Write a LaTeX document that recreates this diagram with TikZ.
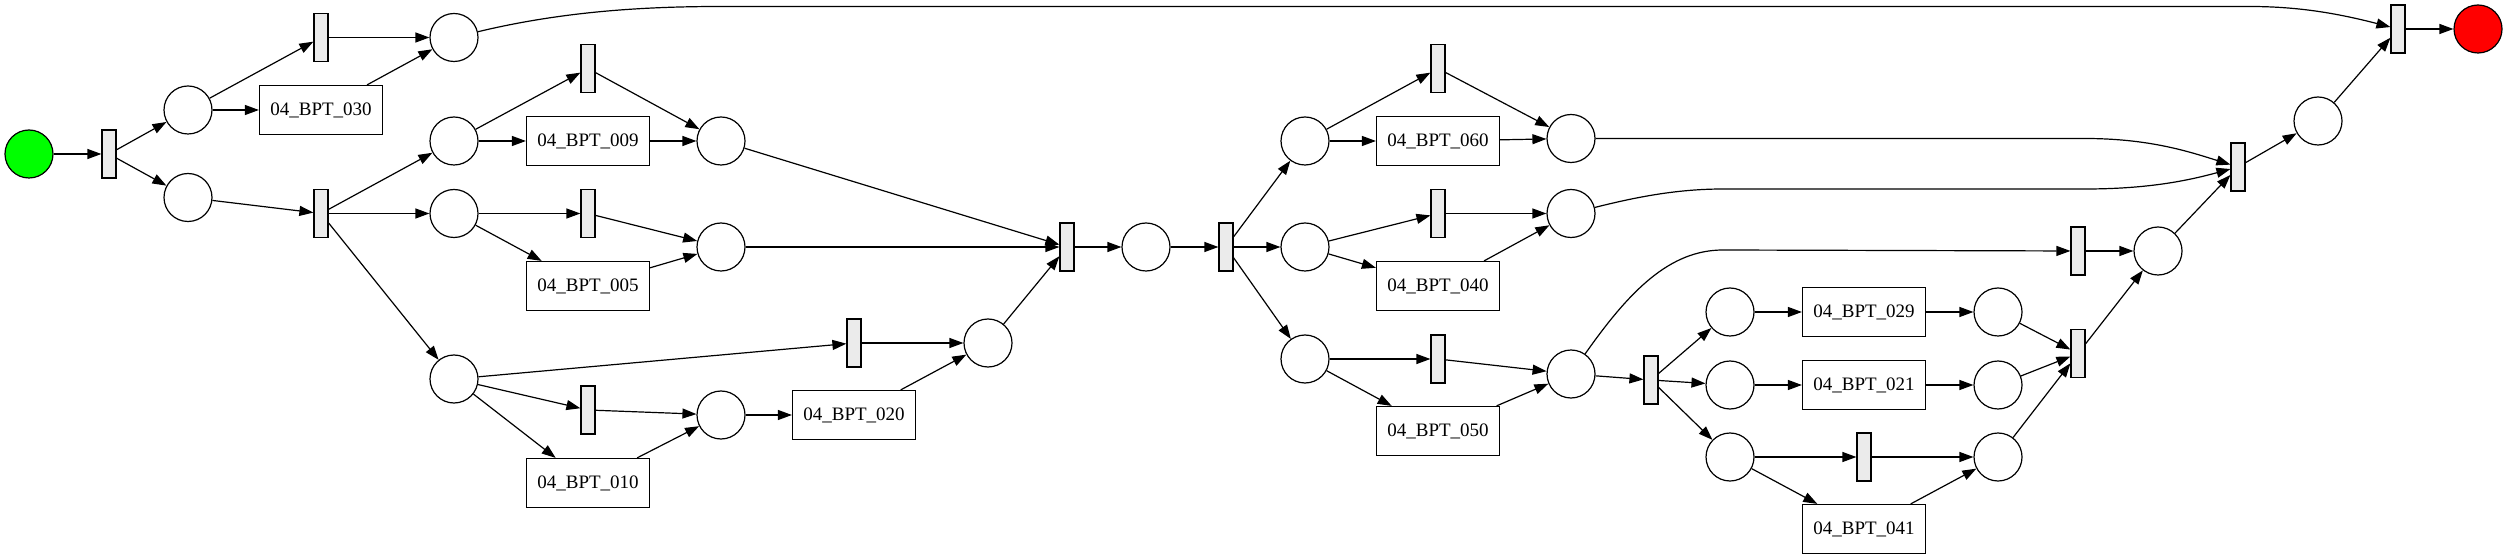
\documentclass[tikz,border=0pt]{standalone}
\usepackage{fontspec}
\setmainfont{Liberation Serif}
\usepackage{tikz}
\usetikzlibrary{arrows.meta}
\definecolor{startgreen}{HTML}{00FF00}
\definecolor{endred}{HTML}{FF0000}
\definecolor{transgray}{HTML}{EBEBEB}
\tikzset{
  place/.style={circle, draw, minimum size=24pt, inner sep=0pt},
  trans/.style={rectangle, draw, fill=transgray, minimum width=7pt, minimum height=24pt, inner sep=0pt},
  task/.style={rectangle, draw, minimum width=61.5pt, minimum height=24.5pt, inner sep=0pt, font=\fontsize{9.5}{11}\selectfont},
  arc/.style={->, line width=0.6pt}
}
\begin{document}
\begin{tikzpicture}[x=0.5pt, y=-0.5pt, line width=0.6pt, >={Triangle[length=7pt,width=5pt]}]
\useasboundingbox (0,0) rectangle (2503,555);
\node[place, fill=startgreen] (pStart) at (29,154) {};
\node[trans] (tA) at (109,154) {};
\node[place] (pA) at (188,110) {};
\node[place] (pB) at (188,197.5) {};
\node[trans] (tA1) at (321,37.5) {};
\node[task] (b030) at (321,110) {04\_BPT\_030};
\node[place] (pC) at (454,37.5) {};
\node[trans] (tB) at (321,213.5) {};
\node[place] (pD) at (454,141) {};
\node[place] (pE) at (454,213.5) {};
\node[place] (pF) at (454,379) {};
\node[trans] (tD) at (588,68.5) {};
\node[task] (b009) at (588,141) {04\_BPT\_009};
\node[trans] (tE) at (588,213.5) {};
\node[task] (b005) at (588,286) {04\_BPT\_005};
\node[trans] (tF) at (588,410) {};
\node[task] (b010) at (588,483) {04\_BPT\_010};
\node[place] (pG) at (721,141) {};
\node[place] (pH) at (721,247) {};
\node[place] (pI) at (721,415) {};
\node[trans] (tI) at (854,343) {};
\node[task] (b020) at (854,415) {04\_BPT\_020};
\node[place] (pJ) at (988,343) {};
\node[trans] (tJ) at (1067,247) {};
\node[place] (pK) at (1146,247) {};
\node[trans] (tK) at (1226,247) {};
\node[place] (pL1) at (1305,141) {};
\node[place] (pL2) at (1305,247) {};
\node[place] (pL3) at (1305,359) {};
\node[trans] (tL1) at (1438,68.5) {};
\node[task] (b060) at (1438,141) {04\_BPT\_060};
\node[trans] (tL2) at (1438,213.5) {};
\node[task] (b040) at (1438,286) {04\_BPT\_040};
\node[trans] (tL3) at (1438,359) {};
\node[task] (b050) at (1438,431) {04\_BPT\_050};
\node[place] (pM) at (1571,138.5) {};
\node[place] (pN) at (1571,213.5) {};
\node[place] (pO) at (1571,374) {};
\node[trans] (tO) at (1651,380) {};
\node[place] (pP1) at (1730,312) {};
\node[place] (pP2) at (1730,385) {};
\node[place] (pP3) at (1730,457) {};
\node[task] (b029) at (1864,312) {04\_BPT\_029};
\node[task] (b021) at (1864,385) {04\_BPT\_021};
\node[trans] (tP3) at (1864,457) {};
\node[task] (b041) at (1864,529) {04\_BPT\_041};
\node[place] (pQ1) at (1998,312) {};
\node[place] (pQ2) at (1998,385) {};
\node[place] (pQ3) at (1998,457) {};
\node[trans] (tQ) at (2078,353.5) {};
\node[trans] (tR) at (2078,251) {};
\node[place] (pR) at (2158,251) {};
\node[trans] (tS) at (2238,167) {};
\node[place] (pS) at (2318,121) {};
\node[trans] (tEnd) at (2398,29) {};
\node[place, fill=endred] (pEnd) at (2478,29) {};
\foreach \a/\b in {pStart/tA, tA/pA, tA/pB, pA/tA1, pA/b030, tA1/pC, b030/pC, pB/tB,
  tB/pD, tB/pE, tB/pF, pD/tD, pD/b009, tD/pG, b009/pG, pE/tE, pE/b005, tE/pH, b005/pH,
  pF/tI, pF/tF, pF/b010, tF/pI, b010/pI, pI/b020, tI/pJ, b020/pJ, pG/tJ, pH/tJ, pJ/tJ,
  tJ/pK, pK/tK, tK/pL1, tK/pL2, tK/pL3, pL1/tL1, pL1/b060, tL1/pM, b060/pM,
  pL2/tL2, pL2/b040, tL2/pN, b040/pN, pL3/tL3, pL3/b050, tL3/pO, b050/pO, pO/tO,
  tO/pP1, tO/pP2, tO/pP3, pP1/b029, pP2/b021, pP3/tP3, pP3/b041, b029/pQ1, b021/pQ2,
  tP3/pQ3, b041/pQ3, pQ1/tQ, pQ2/tQ, pQ3/tQ, tQ/pR, tR/pR, pR/tS, tS/pS, pS/tEnd, tEnd/pEnd}
  \draw[arc] (\a) -- (\b);
\draw[arc] (pC) .. controls (560,12) and (640,6.5) .. (720,6.5) -- (2250,6.5) .. controls (2300,6.5) and (2340,14) .. (tEnd);
\draw[arc] (pM) -- (2085,138.5) .. controls (2150,138.5) and (2190,152) .. (tS);
\draw[arc] (pN) .. controls (1640,196) and (1680,189) .. (1723,189) -- (2085,189) .. controls (2150,189) and (2190,180) .. (tS);
\draw[arc] (pO) .. controls (1630,290) and (1670,250) .. (1723,250) -- (tR);
\end{tikzpicture}
\end{document}
